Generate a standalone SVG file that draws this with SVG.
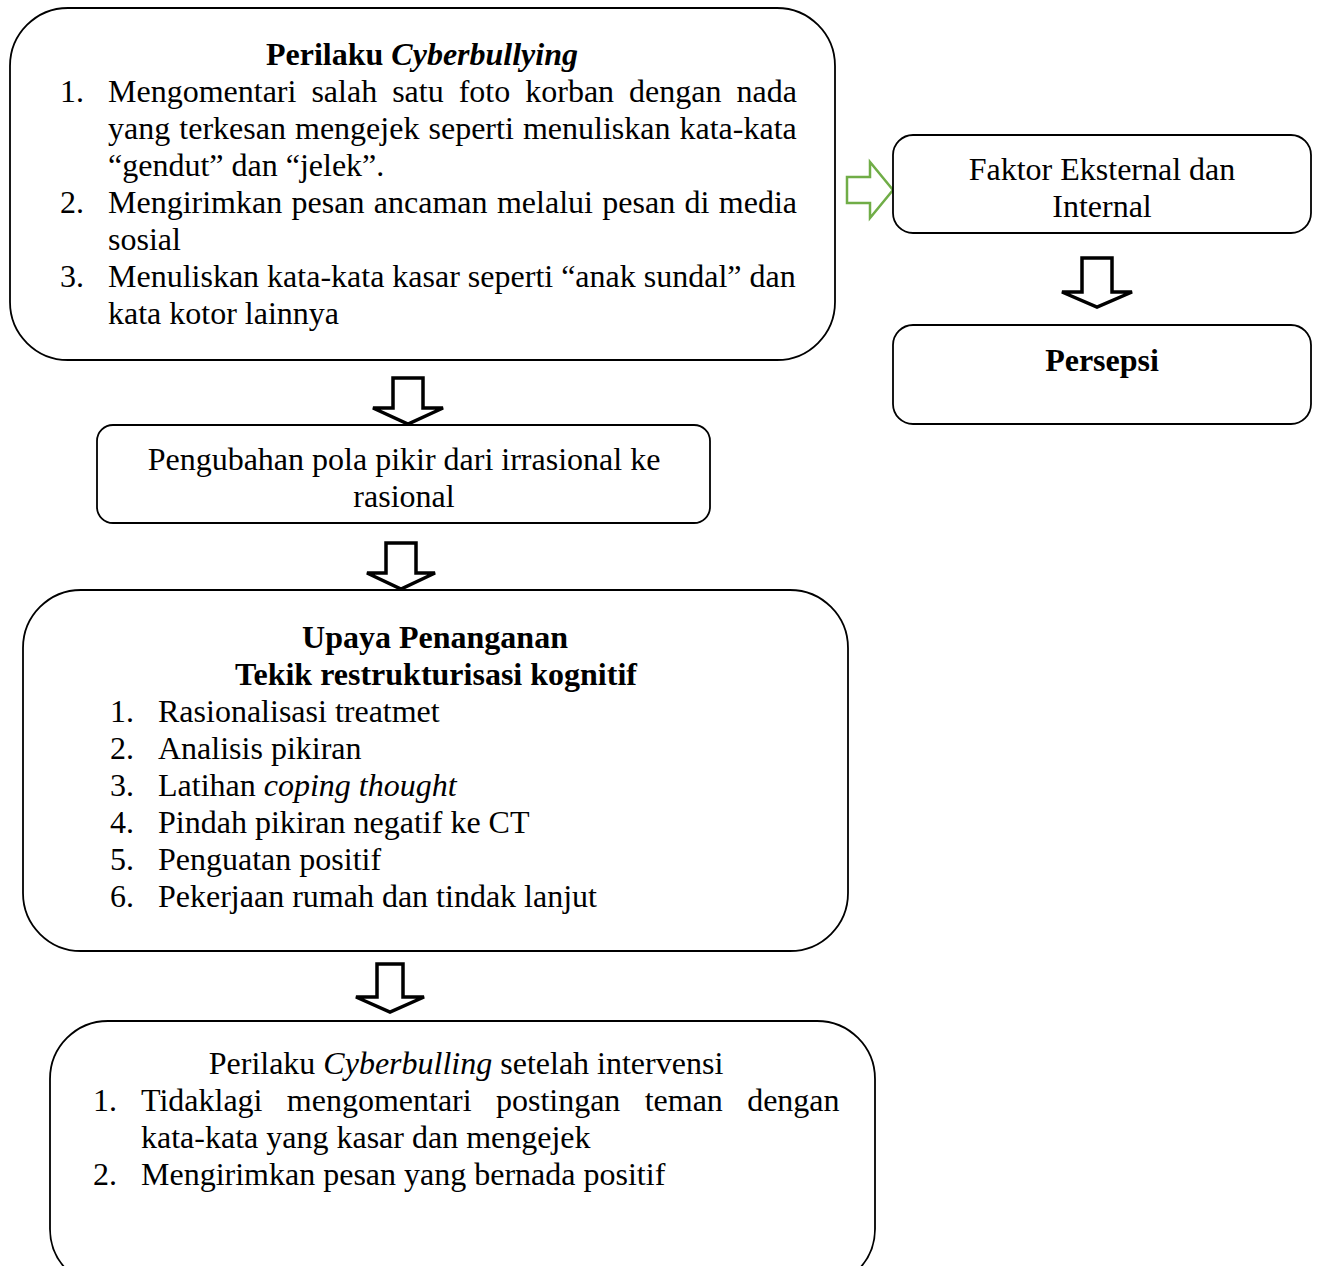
<svg xmlns="http://www.w3.org/2000/svg" width="1317" height="1266" viewBox="0 0 1317 1266">
<style>
.box{fill:#fff;stroke:#000;stroke-width:1.8}
.t{font-family:"Liberation Serif","Times New Roman",serif;font-size:32px;fill:#000}
.c{text-anchor:middle}
.b{font-weight:bold}
.i{font-style:italic}
.arr{fill:#fff;stroke:#000;stroke-width:3.5;stroke-linejoin:miter}
.garr{fill:#fff;stroke:#70AD47;stroke-width:2.5}
</style>
<rect width="1317" height="1266" fill="#fff"/>
<g id="connectors">
<polygon class="arr" points="393,378 423,378 423,408 443,408 408,424 373,408 393,408"/>
<polygon class="arr" points="386,543 416,543 416,573 435,573 401,589 367,573 386,573"/>
<polygon class="arr" points="1082,258 1112,258 1112,292 1132,292 1097,307 1062,292 1082,292"/>
<polygon class="arr" points="377,964 403,964 403,997 424,997 390,1012 356,997 377,997"/>
<polygon class="garr" points="847,177 870,177 870,162 893,190 870,218 870,203 847,203"/>
</g>
<g id="node-perilaku">
<rect class="box" x="10" y="8" width="825" height="352" rx="58" ry="58"/>
<text class="t b c" x="422" y="65">Perilaku <tspan class="i">Cyberbullying</tspan></text>
<text class="t" x="60" y="102">1.</text>
<text class="t" x="108" y="102" word-spacing="7">Mengomentari salah satu foto korban dengan nada</text>
<text class="t" x="108" y="139" word-spacing="1.1">yang terkesan mengejek seperti menuliskan kata-kata</text>
<text class="t" x="108" y="176">“gendut” dan “jelek”.</text>
<text class="t" x="60" y="213">2.</text>
<text class="t" x="108" y="213" word-spacing="1.4">Mengirimkan pesan ancaman melalui pesan di media</text>
<text class="t" x="108" y="250">sosial</text>
<text class="t" x="60" y="287">3.</text>
<text class="t" x="108" y="287">Menuliskan kata-kata kasar seperti “anak sundal” dan</text>
<text class="t" x="108" y="324">kata kotor lainnya</text>
</g>
<g id="node-faktor">
<rect class="box" x="893" y="135" width="418" height="98" rx="20" ry="20"/>
<text class="t c" x="1102" y="180">Faktor Eksternal dan</text>
<text class="t c" x="1102" y="217">Internal</text>
</g>
<g id="node-persepsi">
<rect class="box" x="893" y="325" width="418" height="99" rx="20" ry="20"/>
<text class="t b c" x="1102" y="371">Persepsi</text>
</g>
<g id="node-pengubahan">
<rect class="box" x="97" y="425" width="613" height="98" rx="16" ry="16"/>
<text class="t c" x="404" y="470">Pengubahan pola pikir dari irrasional ke</text>
<text class="t c" x="404" y="507">rasional</text>
</g>
<g id="node-upaya">
<rect class="box" x="23" y="590" width="825" height="361" rx="58" ry="58"/>
<text class="t b c" x="435" y="648">Upaya Penanganan</text>
<text class="t b c" x="436" y="685">Tekik restrukturisasi kognitif</text>
<text class="t" x="110" y="722">1.</text>
<text class="t" x="158" y="722">Rasionalisasi treatmet</text>
<text class="t" x="110" y="759">2.</text>
<text class="t" x="158" y="759">Analisis pikiran</text>
<text class="t" x="110" y="796">3.</text>
<text class="t" x="158" y="796">Latihan <tspan class="i">coping thought</tspan></text>
<text class="t" x="110" y="833">4.</text>
<text class="t" x="158" y="833">Pindah pikiran negatif ke CT</text>
<text class="t" x="110" y="870">5.</text>
<text class="t" x="158" y="870">Penguatan positif</text>
<text class="t" x="110" y="907">6.</text>
<text class="t" x="158" y="907">Pekerjaan rumah dan tindak lanjut</text>
</g>
<g id="node-setelah">
<rect class="box" x="50" y="1021" width="825" height="266" rx="58" ry="58"/>
<text class="t c" x="466" y="1074">Perilaku <tspan class="i">Cyberbulling</tspan> setelah intervensi</text>
<text class="t" x="93" y="1111">1.</text>
<text class="t" x="141" y="1111" word-spacing="16.3">Tidaklagi mengomentari postingan teman dengan</text>
<text class="t" x="141" y="1148">kata-kata yang kasar dan mengejek</text>
<text class="t" x="93" y="1185">2.</text>
<text class="t" x="141" y="1185">Mengirimkan pesan yang bernada positif</text>
</g>
</svg>
